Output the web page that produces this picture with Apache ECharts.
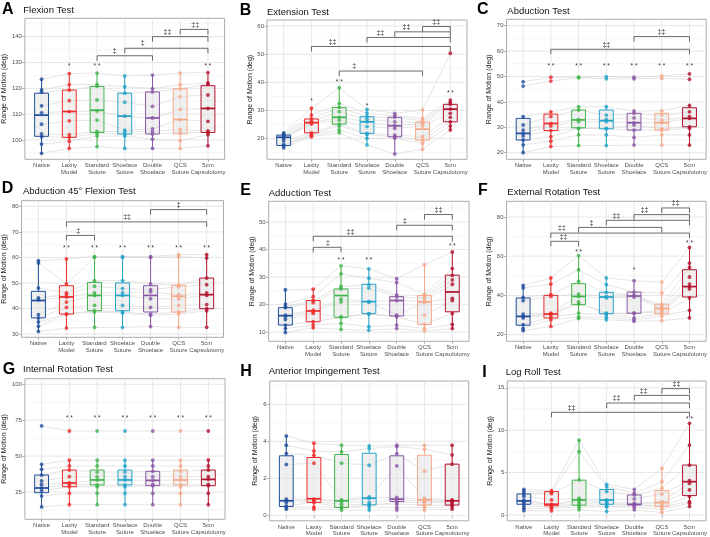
<!DOCTYPE html>
<html><head><meta charset="utf-8">
<script src="https://cdn.jsdelivr.net/npm/echarts@6/dist/echarts.min.js"></script>
<style>html,body{margin:0;padding:0;background:#fff}#c{width:710px;height:537px}</style>
</head><body><div id="c"></div>
<script>
// ---------------- DATA ----------------
const categories = ['Native','Laxity\nModel','Standard\nSuture','Shoelace\nSuture','Double\nShoelace','QCS\nSuture','5cm\nCapsulotomy'];

// Flexion (A)
const flexionPoints = [
  [123.5,119.4,118.5,113.2,110.5,106.1,102.3,101.2,98.4,94.8],
  [125.7,121.4,119.3,115.2,111,107.4,102,101,99.5,96.7],
  [125.9,121.4,120.8,115.5,111.2,107.7,103.3,102.5,101.5,97.4],
  [124.8,120.6,118.1,114.6,109.2,103.8,103.2,102.3,101.5,96.7],
  [125.1,119.9,118.6,113,108.5,104.3,103.2,102.3,100.3,96.7],
  [125.9,121.4,119.8,116.8,111.8,107.9,104.1,102.9,99.7,96.7],
  [126.1,122.1,121.6,117.4,112.2,107.2,103.5,102.9,102,97.7]];
const flexionBoxes = [[94.8,101.4,109.6,118.1,123.5],[96.7,101,111,119.3,125.7],[97.4,102.9,111.5,120.7,125.9],[96.7,102.3,109.2,118.1,124.8],[96.7,102.3,108.5,118.6,125.1],[96.7,102.3,107.9,119.8,125.9],[97.7,102.9,112.2,121,126.1]];
const flexionSig = ['','*','* *','','','','* *'];
const flexionSigY = [0,128.4,128.4,0,0,0,128.4];
const flexionBrackets = [[3,5,132.6,'‡',3.63],[4,7,135.5,'‡',4.65],[5,7,140,'‡‡',5.54],[6,7,142.8,'‡‡',6.54]];
const flexionTicks = [100,110,120,130,140];

// Extension (B)
const extensionPoints = [
  [22.1,21.6,21.3,20.8,20.5,20,19.2,17.9,17.6,16.8],
  [30.8,28.4,27,26.2,25.7,25.2,22.1,21.6,21.2,20.7],
  [38.1,32.5,31.1,29.6,27.6,26.6,25.2,24.5,23.1,22.1],
  [30.4,29,27.8,26.9,26,24.3,21.9,21.5,20.1,17.8],
  [29,28.2,27.6,26,24.6,23.7,21.3,20.7,20.2,14.6],
  [30.2,27.2,26.4,25.8,25.4,24.5,20.7,19.5,18.3,16.3],
  [50.3,33.7,32.9,32.2,30.5,29,27.6,26,24.5,23.1]];
const extensionBoxes = [[16.8,17.6,20.5,21.3,22.1],[20.7,22.1,25.7,27,30.8],[22.1,25.2,27.6,31.1,38.1],[17.8,21.9,26,27.8,30.4],[14.6,20.7,24.6,27.6,29],[16.3,19.5,23.4,25.9,30.2],[23.1,26,30.5,32.2,33.7]];
const extensionSig = ['','*','* *','*','','','* *'];
const extensionSigY = [0,33.4,40,31.6,0,0,36.3];
const extensionBrackets = [[3,6,44,'‡',3.54],[2,7,52.7,'‡‡',2.76],[4,7,55.9,'‡‡',4.48],[5,7,57.9,'‡‡',5.42],[6,7,59.8,'‡‡',6.49]];
const extensionTicks = [20,30,40,50,60];

// Abduction (C)
const abductionPoints = [
  [47.9,46.2,34.2,30.9,28.9,27.6,26.6,25,23.1,20],
  [49.7,48.2,36.1,34.2,31.5,30.5,28.7,26.3,24.5,22.4],
  [49.7,49.5,38.1,36.8,33.1,32.2,29.6,29.6,27,22.8],
  [49.9,49.1,38.1,34.8,33.1,32.2,29.6,29.4,27,22.8],
  [49.7,49.1,36.4,35.5,33.7,31.8,30.9,28.9,26,23],
  [50.2,49.3,36.5,34.8,32.8,31.8,29.4,28.9,27,23],
  [51,48.9,38.6,36.1,34.2,33.5,30.2,29.6,27,23]];
const abductionBoxes = [[20,25,27.6,33.5,34.2],[22.4,28.7,31.5,35.2,36.1],[22.8,29.8,32.9,36.8,38.1],[22.8,29.4,32.6,36.8,38.1],[23,28.9,31.8,35.5,36.4],[23,28.9,31.8,35.5,36.5],[23,30.2,33.5,37.7,38.6]];
const abductionSig = ['','* *','* *','* *','* *','* *','* *'];
const abductionSigY = [0,53.9,53.9,53.9,53.9,53.9,53.9];
const abductionBrackets = [[2,7,60.7,'‡‡',4.0],[5,7,65.7,'‡‡',6.0]];
const abductionTicks = [20,30,40,50,60,70];

// Abduction 45° Flexion (D)
const abd45Points = [
  [58.7,57.8,48,44.1,43.4,37.6,36.3,34.7,33,31],
  [59.4,49.6,46.1,45.4,44.5,42.5,40.4,37.8,37.8,32.3],
  [60.3,60,50.9,48.7,46.1,45.1,41.2,39.1,38.6,32.6],
  [60.3,60,50.9,47.8,46.1,45.1,41.2,38.6,38.2,32.6],
  [60.3,60,49.6,47.4,46.5,43.8,40.4,37.8,37.3,32.9],
  [61.1,60.2,49.1,48.5,45.4,43.8,41.2,38.6,37.8,32.6],
  [61.1,59.8,51.9,49.3,46.1,45.1,41.5,39.9,39.1,32.6]];
const abd45Boxes = [[31,36.3,43.1,46.7,58.7],[32.3,37.8,44.5,48.9,59.4],[32.6,39.1,45.1,50.2,60.3],[32.6,39.1,45.1,50,60.3],[32.9,38.6,45.1,48.9,60.3],[32.6,38.6,44.8,49.1,61.1],[32.6,39.9,45.4,51.9,61.1]];
const abd45Sig = ['','* *','* *','* *','* *','* *','* *'];
const abd45SigY = [0,63.7,63.7,63.7,63.7,63.7,63.7];
const abd45Brackets = [[2,3,68.6,'‡',2.42],[2,7,73.9,'‡‡',4.16],[5,7,78.7,'‡',6.0]];
const abd45Ticks = [30,40,50,60,70,80];

// Adduction (E)
const adductionPoints = [
  [25.4,20.2,19.3,18.9,16.2,15.6,14.6,12.6,11.3,9.9],
  [25.6,22.9,21.5,20.7,18,17.4,16.8,13.8,12.6,11.6],
  [34.1,31.2,26.6,25.7,22,21,15.6,15.4,13.2,11],
  [33,29.6,27.2,26,21.1,20.9,16.6,16.6,12,10.7],
  [29.4,28,23.5,22.9,21.5,16.2,15.9,15.6,12.6,11.3],
  [34.5,23.8,23.2,22.3,21.3,20.9,16.2,12.8,11.3,10.5],
  [39.1,33.1,30.6,29,27.4,22.3,21.5,16.8,12.8,11.3]];
const adductionBoxes = [[9.9,12.6,16,18.9,25.4],[11.6,13.8,17.7,21.5,25.6],[11,15.4,23.3,25.7,34.1],[10.7,16.8,21.1,27.4,33],[11.3,15.9,21.5,22.9,29.4],[10.5,12.8,21,23.3,34.5],[11.3,17.4,24.6,30.7,39.1]];
const adductionSig = ['','','* *','* *','','','* *'];
const adductionSigY = [0,0,36.3,36.3,0,0,41.2];
const adductionBrackets = [[2,3,40.8,'‡',2.53],[2,7,44.8,'‡‡',3.34],[5,7,48.8,'‡',5.3],[6,7,52.7,'‡‡',6.5]];
const adductionTicks = [10,20,30,40,50];

// External Rotation (F)
const extRotPoints = [
  [45.1,43.8,39,37.3,30.5,29.3,28.5,25.1,23.1,22],
  [48.9,45.8,40.4,39.5,31,30.5,30.2,28.8,27.6,24.2],
  [60.3,53.1,47.2,40.7,39.5,36.7,35.6,31,29,28.2],
  [48.9,45.5,41.6,39.5,38.7,31,30.7,30.2,28.8,27.6],
  [47.5,41.7,40,39.7,39.2,31,30.9,28.5,27.5,26.8],
  [46.8,41.2,35.3,34.1,33.3,32.5,31.6,30.7,29.5,27.1],
  [64.5,56.5,54.3,49.4,45.8,44.5,43.3,38.7,32.4,28.5]];
const extRotBoxes = [[22,24.8,29.3,38.7,45.1],[24.2,28.5,30.5,40,48.9],[28.2,35.3,39.5,46,60.3],[27.6,30.7,39.2,41.6,48.9],[26.8,30.9,39.7,41.7,47.5],[27.1,30.7,33.3,35.5,46.8],[28.5,39.2,44.5,53.1,64.5]];
const extRotSig = ['','','* *','','*','','* *'];
const extRotSigY = [0,0,62.1,0,53.1,0,66.6];
const extRotBrackets = [[2,3,67.6,'‡‡',2.45],[2,7,71.8,'‡‡',2.4],[3,6,74.7,'‡',3.46],[4,7,78.3,'‡‡',4.36],[5,7,81.2,'‡‡',5.38],[6,7,84.6,'‡‡',6.5]];
const extRotTicks = [20,40,60,80];

// Internal Rotation (G)
const intRotPoints = [
  [71,44.3,40.8,36.8,32.7,30.3,27.8,25.7,22.2,14.6],
  [67.5,47.1,43.1,40.3,35.7,31.3,30.3,28.7,24.1,16.2],
  [67.5,47.1,43.1,38.9,35.7,33.4,29.9,28.7,24.1,16.2],
  [67.5,47.1,43.1,38.9,35.7,33.4,29.9,28.7,24.1,16.2],
  [67.5,47.1,43.1,39.4,35.7,33.1,30.3,29.4,24.1,16.2],
  [67.5,47.1,43.1,39.4,35.7,33.4,29.9,28.7,24.1,16.2],
  [67.5,47.3,43.1,40.3,35.7,33.8,30.3,29.4,24.1,16.2]];
const intRotBoxes = [[14.6,24.5,27.8,36.8,44.3],[16.2,28.7,31.3,40.3,47.1],[16.2,29.9,33.4,40.3,47.1],[16.2,29.9,33.4,40.3,47.1],[16.2,29.4,33.1,39.4,47.1],[16.2,29.9,33.4,40.3,47.1],[16.2,29.4,33.8,40.3,47.3]];
const intRotSig = ['','* *','* *','* *','* *','* *','* *'];
const intRotSigY = [0,76.1,76.1,76.1,76.1,76.1,76.1];
const intRotBrackets = [];
const intRotTicks = [25,50,75,100];

// Anterior Impingement (H)
const impingePoints = [
  [4.29,3.79,3.34,2.75,0.88,0.79,0.7,0.52,0.45,0.34],
  [3.9,3.48,3.25,2.82,0.88,0.84,0.75,0.7,0.45,0.34],
  [3.79,3.43,2.82,0.84,0.79,0.75,0.61,0.43,0.43,0.29],
  [3.75,3.61,2.71,1.0,0.93,0.7,0.57,0.57,0.45,0.29],
  [3.79,3.72,3.34,2.68,0.97,0.84,0.7,0.61,0.43,0.29],
  [3.79,3.57,2.39,0.92,0.84,0.75,0.7,0.56,0.43,0.29],
  [3.79,3.27,2.77,0.84,0.79,0.75,0.66,0.56,0.47,0.34]];
const impingeBoxes = [[0.34,0.48,0.79,3.22,4.29],[0.34,0.7,0.9,3.13,3.9],[0.29,0.43,0.79,3.29,3.79],[0.29,0.57,0.93,3.36,3.75],[0.29,0.75,0.88,3.22,3.79],[0.29,0.56,0.84,3.25,3.79],[0.34,0.56,0.79,2.77,3.79]];
const impingeSig = ['','','','','','',''];
const impingeSigY = [0,0,0,0,0,0,0];
const impingeBrackets = [];
const impingeTicks = [0,2,4,6];

// Log Roll (I)
const logRollPoints = [
  [3.0,2.75,2.47,2.2,1.76,1.57,1.37,1.06,0.78,0.5],
  [2.86,2.67,2.5,1.76,1.25,1.2,1.06,0.9,0.75,0.47],
  [8.82,7.45,4.12,1.96,1.76,1.57,1.3,1.14,0.9,0.59],
  [3.6,3.33,2.75,1.76,1.57,1.37,1.25,1.0,0.98,0.39],
  [3.0,2.55,2.35,1.88,1.37,1.25,1.18,1.1,0.9,0.59],
  [5.5,3.92,3.14,2.47,1.57,1.37,1.06,0.98,0.67,0.27],
  [10.8,8.24,5.88,4.04,3.73,2.94,2.16,1.57,1.37,0.98]];
const logRollBoxes = [[0.5,1.25,1.65,2.47,3.0],[0.47,1.06,1.25,2.75,2.86],[0.59,1.14,1.76,4.1,8.8],[0.39,1.25,1.76,3.0,3.6],[0.59,1.18,1.25,2.35,3.0],[0.27,0.98,1.45,2.86,5.5],[0.98,2.27,3.92,5.88,10.8]];
const logRollSig = ['','','','','','','* *'];
const logRollSigY = [0,0,0,0,0,0,11.3];
const logRollBrackets = [[2,7,12.1,'‡‡',2.73],[4,7,13.2,'‡‡',4.36],[5,7,14.1,'‡‡',5.34],[6,7,14.9,'‡‡',6.53]];
const logRollTicks = [0,5,10,15];

// ---------------- STYLE / LAYOUT ----------------
const groupColors = ['#1f4e9d','#ee2b2b','#3fb54a','#23a3c9','#8b57a6','#f6a98b','#b3122e'];
const FONT = 'Liberation Sans, Arial, Helvetica, sans-serif';

const panels = [
  {letter:'A', title:'Flexion Test', pts:flexionPoints, box:flexionBoxes, sig:flexionSig, sigY:flexionSigY, br:flexionBrackets, ticks:flexionTicks},
  {letter:'B', title:'Extension Test', pts:extensionPoints, box:extensionBoxes, sig:extensionSig, sigY:extensionSigY, br:extensionBrackets, ticks:extensionTicks},
  {letter:'C', title:'Abduction Test', pts:abductionPoints, box:abductionBoxes, sig:abductionSig, sigY:abductionSigY, br:abductionBrackets, ticks:abductionTicks},
  {letter:'D', title:'Abduction 45° Flexion Test', pts:abd45Points, box:abd45Boxes, sig:abd45Sig, sigY:abd45SigY, br:abd45Brackets, ticks:abd45Ticks},
  {letter:'E', title:'Adduction Test', pts:adductionPoints, box:adductionBoxes, sig:adductionSig, sigY:adductionSigY, br:adductionBrackets, ticks:adductionTicks},
  {letter:'F', title:'External Rotation Test', pts:extRotPoints, box:extRotBoxes, sig:extRotSig, sigY:extRotSigY, br:extRotBrackets, ticks:extRotTicks},
  {letter:'G', title:'Internal Rotation Test', pts:intRotPoints, box:intRotBoxes, sig:intRotSig, sigY:intRotSigY, br:intRotBrackets, ticks:intRotTicks},
  {letter:'H', title:'Anterior Impingement Test', pts:impingePoints, box:impingeBoxes, sig:impingeSig, sigY:impingeSigY, br:impingeBrackets, ticks:impingeTicks},
  {letter:'I', title:'Log Roll Test', pts:logRollPoints, box:logRollBoxes, sig:logRollSig, sigY:logRollSigY, br:logRollBrackets, ticks:logRollTicks}
];
const layout = [
  {left:22.1, top:18.3, width:202.5, height:141, yMin:92.5, yMax:147.1, lx:2, ly:9.5, tx:23.3, ty:10, nameX:6},
  {left:267, top:20, width:200, height:139.3, yMin:12.7, yMax:62.1, lx:239.7, ly:10.5, tx:267, ty:12.7, nameX:253.7},
  {left:506.5, top:19.3, width:201.5, height:140, yMin:17.4, yMax:72.5, lx:477, ly:10, tx:507.3, ty:11.3, nameX:492},
  {left:21.5, top:200.7, width:202, height:136.6, yMin:28.7, yMax:82.2, lx:1.7, ly:188.3, tx:23, ty:191.3, nameX:6.7},
  {left:268.7, top:201.3, width:200.3, height:140, yMin:6.7, yMax:57.5, lx:240.3, ly:190.8, tx:268.7, ty:193, nameX:253},
  {left:506.5, top:201.3, width:201.5, height:140, yMin:16.6, yMax:88, lx:478, ly:190.5, tx:507.3, ty:192.3, nameX:490.7},
  {left:24, top:378.7, width:201, height:140.6, yMin:6.0, yMax:103.9, lx:2.7, ly:370, tx:23, ty:369.3, nameX:6},
  {left:269.7, top:381, width:199, height:140, yMin:-0.29, yMax:7.26, lx:240.3, ly:371.3, tx:268.7, ty:371, nameX:255},
  {left:507.3, top:381, width:200, height:140, yMin:-0.7, yMax:15.8, lx:482.3, ly:372.7, tx:505.7, ty:372, nameX:491}
];

const catPos = [1,2,3,4,5,6,7];
const option = {animation:false, backgroundColor:'#fff', grid:[], xAxis:[], yAxis:[], series:[], graphic:[]};

panels.forEach((p, i) => {
  const L = layout[i];
  option.grid.push({left:L.left, top:L.top, width:L.width, height:L.height, show:true,
    borderColor:'#ababab', borderWidth:1, backgroundColor:'#fff'});
  option.xAxis.push({type:'value', gridIndex:i, min:0.4, max:7.6,
    axisLine:{show:false}, splitLine:{show:false},
    axisTick:{show:true, customValues:catPos, length:2.5, lineStyle:{color:'#999', width:0.8}},
    axisLabel:{customValues:catPos, formatter:v => categories[Math.round(v)-1], fontSize:6, lineHeight:6.6,
      color:'#4d4d4d', margin:3, fontFamily:FONT}});
  option.yAxis.push({type:'value', gridIndex:i, min:L.yMin, max:L.yMax,
    name:'Range of Motion (deg)', nameLocation:'middle', nameGap:L.left - L.nameX - 3.5,
    nameTextStyle:{fontSize:7, color:'#1a1a1a', fontFamily:FONT},
    axisLine:{show:false}, splitLine:{show:false},
    axisTick:{show:true, customValues:p.ticks, length:2.5, lineStyle:{color:'#999', width:0.8}},
    axisLabel:{customValues:p.ticks, fontSize:6, color:'#4d4d4d', margin:3, fontFamily:FONT}});

  // grid lines (major / minor horizontal, vertical at categories)
  const step = p.ticks[1] - p.ticks[0];
  const gridItems = [];
  p.ticks.forEach(t => gridItems.push([0, t]));
  for (let t = p.ticks[0] - step/2; t <= L.yMax; t += step) if (t >= L.yMin) gridItems.push([1, t]);
  catPos.forEach(c => gridItems.push([2, c]));
  option.series.push({type:'custom', xAxisIndex:i, yAxisIndex:i, silent:true, z:1, data:gridItems,
    renderItem:(params, api) => {
      const cs = params.coordSys; const kind = api.value(0), v = api.value(1);
      if (kind === 2) {
        const x = api.coord([v, (L.yMin+L.yMax)/2])[0];
        return {type:'line', shape:{x1:x, y1:cs.y, x2:x, y2:cs.y+cs.height}, style:{stroke:'#dedede', lineWidth:0.7}};
      }
      const y = api.coord([1, v])[1];
      return {type:'line', shape:{x1:cs.x, y1:y, x2:cs.x+cs.width, y2:y},
        style:{stroke: kind === 0 ? '#dcdcdc' : '#ececec', lineWidth: kind === 0 ? 0.7 : 0.5}};
    }});

  // connecting lines per specimen
  const nSpec = p.pts[0].length;
  const specData = [];
  for (let s = 0; s < nSpec; s++) specData.push(p.pts.map(g => g[s]));
  option.series.push({type:'custom', xAxisIndex:i, yAxisIndex:i, silent:true, z:2, data:specData.map((r, k) => [k, r[0]]),
    renderItem:(params, api) => {
      const r = specData[params.dataIndex];
      const pts = r.map((v, g) => api.coord([g+1, v]));
      return {type:'polyline', shape:{points:pts}, style:{stroke:'#d4d4d4', lineWidth:0.6, fill:null}};
    }});

  // boxes
  option.series.push({type:'custom', xAxisIndex:i, yAxisIndex:i, silent:true, z:3,
    data:p.box.map((b, g) => [g+1, b[2]]),
    renderItem:(params, api) => {
      const g = params.dataIndex; const b = p.box[g]; const x = g+1; const col = groupColors[g];
      const c = v => api.coord([x, v]);
      const lo = c(b[0]), q1 = c(b[1]), md = c(b[2]), q3 = c(b[3]), hi = c(b[4]);
      const half = api.coord([x+0.25, b[2]])[0] - md[0];
      return {type:'group', children:[
        {type:'line', shape:{x1:lo[0], y1:lo[1], x2:q1[0], y2:q1[1]}, style:{stroke:col, lineWidth:1}},
        {type:'line', shape:{x1:q3[0], y1:q3[1], x2:hi[0], y2:hi[1]}, style:{stroke:col, lineWidth:1}},
        {type:'rect', shape:{x:md[0]-half, y:q3[1], width:2*half, height:q1[1]-q3[1]},
          style:{fill:'rgba(225,225,225,0.5)', stroke:col, lineWidth:1}},
        {type:'line', shape:{x1:md[0]-half, y1:md[1], x2:md[0]+half, y2:md[1]}, style:{stroke:col, lineWidth:1.7}}
      ]};
    }});

  // points
  const scatterData = [];
  p.pts.forEach((g, gi) => g.forEach(v => scatterData.push({value:[gi+1, v], itemStyle:{color:groupColors[gi]}})));
  option.series.push({type:'scatter', xAxisIndex:i, yAxisIndex:i, silent:true, z:4, symbol:'circle', symbolSize:3.8, data:scatterData});

  // significance marks
  const sigData = [];
  p.sig.forEach((s, gi) => { if (s) sigData.push([gi+1, p.sigY[gi], gi]); });
  option.series.push({type:'custom', xAxisIndex:i, yAxisIndex:i, silent:true, z:5, data:sigData,
    renderItem:(params, api) => {
      const gi = sigData[params.dataIndex][2];
      const pt = api.coord([gi+1, p.sigY[gi]]);
      return {type:'text', x:pt[0], y:pt[1], style:{text:p.sig[gi], align:'center', verticalAlign:'middle',
        fontSize:6.5, fontFamily:FONT, fill:'#333'}};
    }});

  // brackets
  option.series.push({type:'custom', xAxisIndex:i, yAxisIndex:i, silent:true, z:5,
    data:p.br.map(b => [b[0], b[2]]),
    renderItem:(params, api) => {
      const b = p.br[params.dataIndex];
      const a = api.coord([b[0], b[2]]), c2 = api.coord([b[1], b[2]]), t = api.coord([b[4], b[2]]);
      return {type:'group', children:[
        {type:'polyline', shape:{points:[[a[0], a[1]+5], [a[0], a[1]], [c2[0], c2[1]], [c2[0], c2[1]+5]]},
          style:{stroke:'#5a5a5a', lineWidth:0.9, fill:null}},
        {type:'text', x:t[0], y:a[1]-1.2, style:{text:b[3], align:'center', verticalAlign:'bottom',
          fontSize:7, fontFamily:FONT, fill:'#333'}}
      ]};
    }});

  // panel letter and title
  option.graphic.push({type:'text', x:L.lx, y:L.ly, style:{text:p.letter, font:'bold 16px ' + FONT, fill:'#000', verticalAlign:'middle'}});
  option.graphic.push({type:'text', x:L.tx, y:L.ty, style:{text:p.title, font:'9.5px ' + FONT, fill:'#111', verticalAlign:'middle'}});
});

const chart = echarts.init(document.getElementById('c'), null, {renderer:'canvas'});
chart.setOption(option);
</script>
</body></html>
